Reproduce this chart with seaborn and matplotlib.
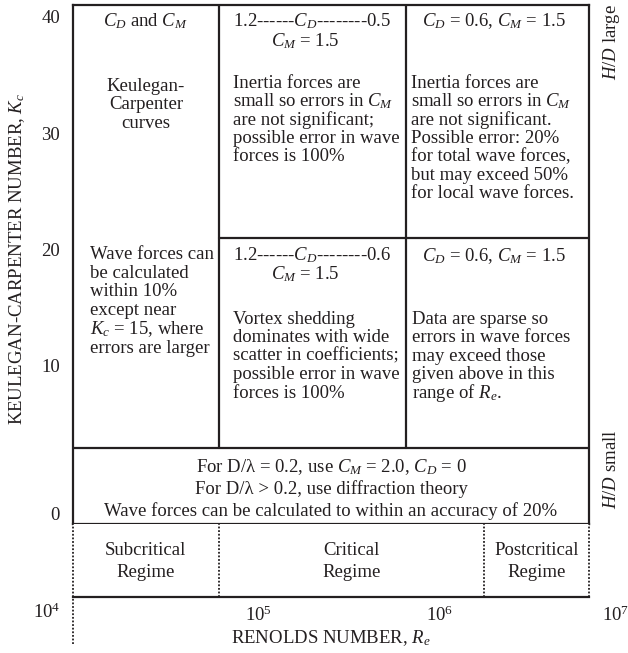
import numpy as np
import pandas as pd
import matplotlib
matplotlib.use("Agg")
import matplotlib.pyplot as plt
import seaborn as sns

# ---- table boundaries ---------------------------------------------------
re_lo, re_hi = 9.4e3, 6.65e6                 # Reynolds-number span of the table
re_cells = [re_lo, 6.0e4, 6.5e5, re_hi]       # column edges of the coefficient cells
re_regimes = [re_lo, 6.0e4, 1.75e6, re_hi]    # flow-regime edges
kc_lo, kc_hi = 0, 41
kc_split = 21            # H/D large above this, lower cells below
kc_band = 4.8            # inertia / diffraction band below this

kc_ticks = [40, 30, 20, 10, 0]
re_ticks = [1e5, 1e6]
re_tick_labels = ["$10^5$", "$10^6$"]
re_end_labels = ["$10^4$", "$10^7$"]
regime_names = [["Subcritical", "Regime"], ["Critical", "Regime"], ["Postcritical", "Regime"]]

# ---- cell texts ---------------------------------------------------------
cell_a_head = "$C_D$ and $C_M$"
cell_a_body = ["Keulegan-", "Carpenter", "curves"]
cell_b_head = ["1.2------$C_D$--------0.5", "$C_M$ = 1.5"]
cell_b_body = ["Inertia forces are", "small so errors in $C_M$", "are not significant;",
               "possible error in wave", "forces is 100%"]
cell_c_head = "$C_D$ = 0.6, $C_M$ = 1.5"
cell_c_body = ["Inertia forces are", "small so errors in $C_M$", "are not significant.",
               "Possible error: 20%", "for total wave forces,", "but may exceed 50%",
               "for local wave forces."]
cell_d_body = ["Wave forces can", "be calculated", "within 10%", "except near",
               "$K_c$ = 15, where", "errors are larger"]
cell_e_head = ["1.2------$C_D$--------0.6", "$C_M$ = 1.5"]
cell_e_body = ["Vortex shedding", "dominates with wide", "scatter in coefficients;",
               "possible error in wave", "forces is 100%"]
cell_f_head = "$C_D$ = 0.6, $C_M$ = 1.5"
cell_f_body = ["Data are sparse so", "errors in wave forces", "may exceed those",
               "given above in this", "range of $R_e$."]
band_lines = ["For D/\u03bb = 0.2, use $C_M$ = 2.0, $C_D$ = 0",
              "For D/\u03bb > 0.2, use diffraction theory",
              "Wave forces can be calculated to within an accuracy of 20%"]

INK = "#231f20"
FS = 13.5

sns.set_theme(style="white")
plt.rcParams["font.family"] = ["Liberation Serif", "DejaVu Serif"]
plt.rcParams["mathtext.fontset"] = "custom"
plt.rcParams["mathtext.rm"] = "Liberation Serif"
plt.rcParams["mathtext.it"] = "Liberation Serif:italic"
plt.rcParams["mathtext.bf"] = "Liberation Serif:bold"
plt.rcParams["text.color"] = INK
plt.rcParams["font.size"] = FS

W, H = 628, 653
PT = 72 / 100  # points per pixel
fig = plt.figure(figsize=(W / 100, H / 100), dpi=100)
fig.patch.set_facecolor("white")

L, R = 73, 589
T_main, B_main, B_reg = 5, 524, 597
ax = fig.add_axes([L / W, 1 - B_main / H, (R - L) / W, (B_main - T_main) / H])
axr = fig.add_axes([L / W, 1 - B_reg / H, (R - L) / W, (B_reg - B_main) / H])

# Kc axis: linear above 10, stretched below 10
stretch = 1.36
def fwd(k):
    k = np.asarray(k, dtype=float)
    return np.where(k >= 10, k, 10 - (10 - k) * stretch)
def inv(y):
    y = np.asarray(y, dtype=float)
    return np.where(y >= 10, y, 10 - (10 - y) / stretch)

for a in (ax, axr):
    a.set_xscale("log")
    a.set_xlim(re_lo, re_hi)
    a.set_facecolor("white")
ax.set_yscale("function", functions=(fwd, inv))
ax.set_ylim(kc_lo, kc_hi)
axr.set_ylim(0, 1)

# internal cell boundaries
seg = pd.DataFrame({
    "re": [re_cells[1], re_cells[1], re_cells[2], re_cells[2],
           re_cells[1], re_hi, re_lo, re_hi],
    "kc": [kc_band, kc_hi, kc_band, kc_hi, kc_split, kc_split, kc_band, kc_band],
    "seg": [0, 0, 1, 1, 2, 2, 3, 3],
})
sns.lineplot(data=seg, x="re", y="kc", units="seg", estimator=None, sort=False,
             color=INK, linewidth=1.6, ax=ax, legend=False)
ax.set_xlabel("")

for sp in ax.spines.values():
    sp.set_visible(True)
    sp.set_color(INK)
    sp.set_linewidth(1.6)
for name, sp in axr.spines.items():
    sp.set_visible(name == "bottom")
    sp.set_color(INK)
    sp.set_linewidth(1.6)

# regime separators (dotted)
for i, xr in enumerate(re_regimes):
    y0 = -0.64 if i == 0 else 0
    axr.plot([xr, xr], [y0, 1], linestyle=(0, (1, 1)), color=INK, linewidth=1.3,
             clip_on=False)

# ticks
ax.set_xticks([])
ax.minorticks_off()
ax.yaxis.set_minor_locator(matplotlib.ticker.NullLocator())
ax.set_yticks(kc_ticks)
ax.set_yticklabels([str(v) for v in kc_ticks])
ax.tick_params(axis="y", length=0, pad=13 * PT, labelsize=FS, colors=INK)
ax.get_yticklabels()[-1].set_va("bottom")

axr.set_xticks(re_ticks)
axr.set_xticklabels(re_tick_labels)
axr.xaxis.set_minor_locator(matplotlib.ticker.NullLocator())
axr.set_yticks([])
axr.tick_params(axis="x", length=0, pad=9 * PT, labelsize=FS, colors=INK)

ax.set_ylabel("KEULEGAN-CARPENTER NUMBER, $K_c$", fontsize=FS, color=INK, va="center")
ax.yaxis.set_label_coords((17 - L) / (R - L), (B_main - 259) / (B_main - T_main))
axr.set_xlabel("RENOLDS NUMBER, $R_e$", fontsize=FS, color=INK, va="center")
axr.xaxis.set_label_coords(0.5, -(638 - B_reg) / (B_reg - B_main))

# end labels of the Reynolds axis
axr.annotate(re_end_labels[0], xy=(re_lo, 0), xytext=(-13 * PT, -15 * PT),
             textcoords="offset points", ha="right", va="center", fontsize=FS,
             annotation_clip=False)
axr.annotate(re_end_labels[1], xy=(re_hi, 0), xytext=(13 * PT, -18 * PT),
             textcoords="offset points", ha="left", va="center", fontsize=FS,
             annotation_clip=False)


def gm(a, b):
    return np.sqrt(a * b)


def lines_at(a, lines, x, y, dx, dy0, pitch, ha="left"):
    for i, s in enumerate(lines):
        a.annotate(s, xy=(x, y), xycoords="data",
                   xytext=(dx * PT, -(dy0 + i * pitch) * PT), textcoords="offset points",
                   ha=ha, va="baseline", fontsize=FS, color=INK, annotation_clip=False)


P = 18.3
# upper row
lines_at(ax, [cell_a_head], gm(re_cells[0], re_cells[1]), kc_hi, 0, 21, P, "center")
lines_at(ax, cell_a_body, gm(re_cells[0], re_cells[1]), kc_hi, 0, 86, P, "center")
lines_at(ax, [cell_b_head[0]], re_cells[1], kc_hi, 14, 21, P)
lines_at(ax, [cell_b_head[1]], re_cells[1], kc_hi, 86, 41, P, "center")
lines_at(ax, cell_b_body, re_cells[1], kc_hi, 14, 83, P)
lines_at(ax, [cell_c_head], gm(re_cells[2], re_cells[3]), kc_hi, -4, 21, P, "center")
lines_at(ax, cell_c_body, re_cells[2], kc_hi, 5, 83, P)
# lower row
lines_at(ax, cell_d_body, re_cells[0], kc_split, 17, 21, 18.8)
lines_at(ax, [cell_e_head[0]], re_cells[1], kc_split, 14, 23, P)
lines_at(ax, [cell_e_head[1]], re_cells[1], kc_split, 86, 42, P, "center")
lines_at(ax, cell_e_body, re_cells[1], kc_split, 14, 86, 18.5)
lines_at(ax, [cell_f_head], gm(re_cells[2], re_cells[3]), kc_split, -4, 23, P, "center")
lines_at(ax, cell_f_body, re_cells[2], kc_split, 6, 86, 18.5)
# diffraction band
lines_at(ax, band_lines, gm(re_lo, re_hi), kc_band, 0, 24, 22, "center")
# flow regimes
for k in range(3):
    lines_at(axr, regime_names[k], gm(re_regimes[k], re_regimes[k + 1]), 1, 0, 31, 22, "center")

# wave-height ratio notes on the right
fig.text(612 / W, 1 - 42 / H, "$H/D$ large", rotation=90, ha="center", va="center",
         fontsize=FS, color=INK)
fig.text(612 / W, 1 - 469 / H, "$H/D$ small", rotation=90, ha="center", va="center",
         fontsize=FS, color=INK)

fig.savefig("out.png", dpi=100, facecolor="white")
